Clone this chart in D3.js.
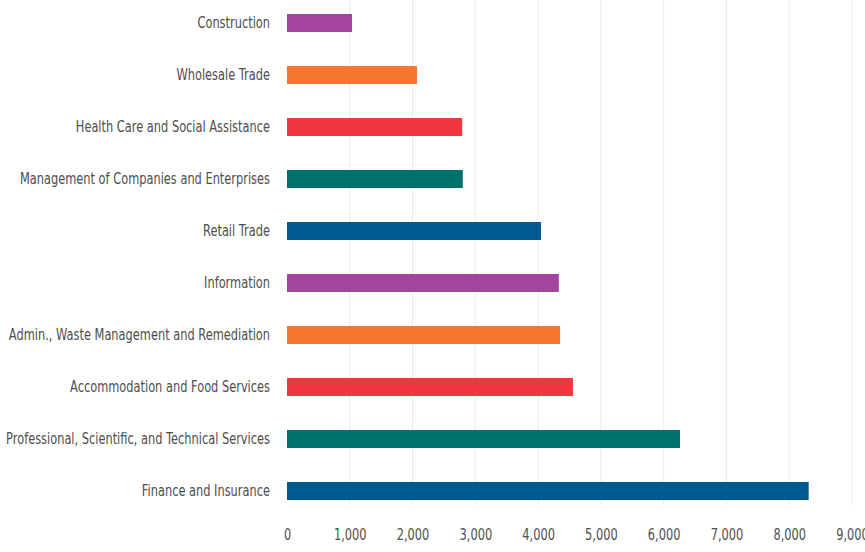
<!DOCTYPE html>
<html>
<head>
<meta charset="utf-8">
<script src="https://cdn.jsdelivr.net/npm/d3@7"></script>
<style>
  body { margin: 0; background: #fff; }
  svg { display: block; }
</style>
</head>
<body>
<svg id="chart"></svg>
<script>
const industries = [
  "Construction",
  "Wholesale Trade",
  "Health Care and Social Assistance",
  "Management of Companies and Enterprises",
  "Retail Trade",
  "Information",
  "Admin., Waste Management and Remediation",
  "Accommodation and Food Services",
  "Professional, Scientific, and Technical Services",
  "Finance and Insurance"
];
const values = [1035, 2070, 2790, 2800, 4045, 4330, 4350, 4555, 6260, 8310];
const barColors = ["#a3449e", "#f4762f", "#f0363f", "#00706b", "#00598f",
                   "#a3449e", "#f4762f", "#f0363f", "#00706b", "#00598f"];
const ticks = [0, 1000, 2000, 3000, 4000, 5000, 6000, 7000, 8000, 9000];

const width = 865;
const height = 552;
const font = "'DejaVu Sans', sans-serif";
const squeeze = 0.76; // labels are set in a narrow face

const svg = d3.select("#chart").attr("width", width).attr("height", height);

const x = d3.scaleLinear().domain([0, 9000]).range([287, 852]);
const y = d3.scaleBand()
  .domain(industries)
  .range([-3, 517])
  .paddingInner(0.654)
  .paddingOuter(0.327);

// gridlines
svg.append("g")
  .selectAll("line")
  .data(ticks.filter((t) => t > 0))
  .enter()
  .append("line")
  .attr("x1", (d) => x(d))
  .attr("x2", (d) => x(d))
  .attr("y1", 0)
  .attr("y2", 505)
  .attr("stroke", "#ececec")
  .attr("stroke-width", 1);

svg.append("g")
  .selectAll("rect")
  .data(industries)
  .enter()
  .append("rect")
  .attr("x", x(0))
  .attr("y", (d) => y(d))
  .attr("width", (d, i) => x(values[i]) - x(0))
  .attr("height", y.bandwidth())
  .attr("fill", (d, i) => barColors[i]);

// category labels
svg.append("g")
  .selectAll("text")
  .data(industries)
  .enter()
  .append("text")
  .attr("transform", (d) => `translate(270, ${y(d) + y.bandwidth() / 2}) scale(${squeeze}, 1)`)
  .attr("dy", "0.35em")
  .attr("text-anchor", "end")
  .attr("font-family", font)
  .attr("font-size", 15)
  .attr("fill", "#4d4d4d")
  .text((d) => d);

const xAxis = d3.axisBottom(x)
  .tickValues(ticks)
  .tickFormat(d3.format(","))
  .tickSize(0)
  .tickPadding(0);

const gx = svg.append("g")
  .attr("transform", "translate(0, 529)")
  .call(xAxis);
gx.select(".domain").remove();
gx.selectAll(".tick text")
  .attr("transform", `scale(${squeeze}, 1)`)
  .attr("font-family", font)
  .attr("font-size", 15)
  .attr("fill", "#4d4d4d");
</script>
</body>
</html>
